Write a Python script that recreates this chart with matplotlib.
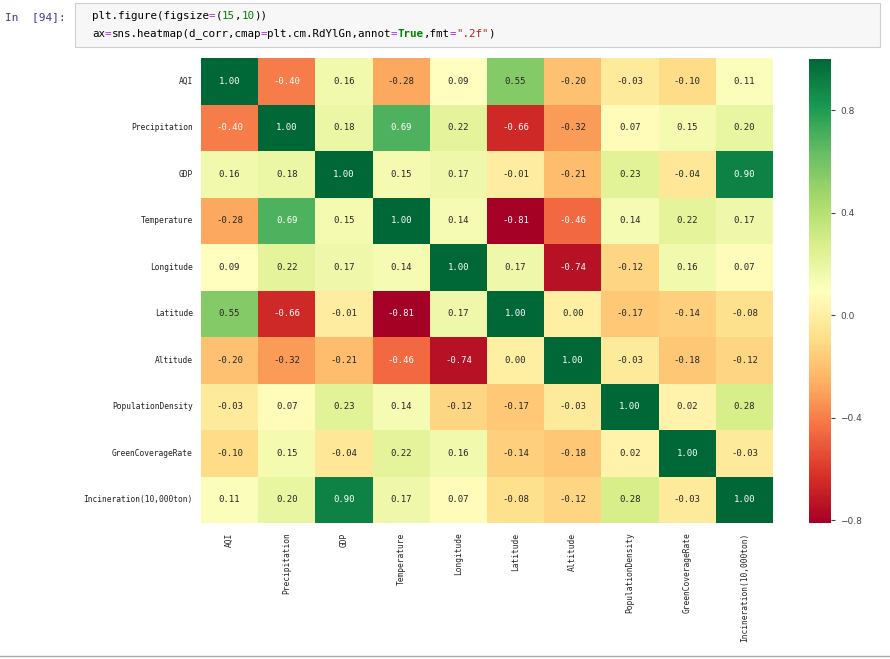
import numpy as np
import matplotlib
matplotlib.use("Agg")
import matplotlib.pyplot as plt
import seaborn as sns
from matplotlib.patches import Rectangle

labels = ["AQI", "Precipitation", "GDP", "Temperature", "Longitude", "Latitude",
          "Altitude", "PopulationDensity", "GreenCoverageRate", "Incineration(10,000ton)"]

r_aqi = [1.00, -0.40, 0.16, -0.28, 0.09, 0.55, -0.20, -0.03, -0.10, 0.11]
r_prec = [-0.40, 1.00, 0.18, 0.69, 0.22, -0.66, -0.32, 0.07, 0.15, 0.20]
r_gdp = [0.16, 0.18, 1.00, 0.15, 0.17, -0.01, -0.21, 0.23, -0.04, 0.90]
r_temp = [-0.28, 0.69, 0.15, 1.00, 0.14, -0.81, -0.46, 0.14, 0.22, 0.17]
r_lon = [0.09, 0.22, 0.17, 0.14, 1.00, 0.17, -0.74, -0.12, 0.16, 0.07]
r_lat = [0.55, -0.66, -0.01, -0.81, 0.17, 1.00, 0.00, -0.17, -0.14, -0.08]
r_alt = [-0.20, -0.32, -0.21, -0.46, -0.74, 0.00, 1.00, -0.03, -0.18, -0.12]
r_pop = [-0.03, 0.07, 0.23, 0.14, -0.12, -0.17, -0.03, 1.00, 0.02, 0.28]
r_green = [-0.10, 0.15, -0.04, 0.22, 0.16, -0.14, -0.18, 0.02, 1.00, -0.03]
r_inc = [0.11, 0.20, 0.90, 0.17, 0.07, -0.08, -0.12, 0.28, -0.03, 1.00]

d_corr = np.array([r_aqi, r_prec, r_gdp, r_temp, r_lon, r_lat, r_alt, r_pop, r_green, r_inc])

W, H = 890, 659
fig = plt.figure(figsize=(W / 100, H / 100), dpi=100)
fig.patch.set_facecolor("white")

def fx(px):
    return px / W

def fy(py):
    return 1 - py / H

mono = ["DejaVu Sans Mono"]
plt.rcParams["font.family"] = mono

# heatmap axes and colorbar axes
ax = fig.add_axes([fx(201), fy(523), fx(773) - fx(201), fy(58) - fy(523)])
cax = fig.add_axes([fx(809), fy(523), fx(831) - fx(809), fy(59) - fy(523)])

sns.heatmap(d_corr, cmap=plt.cm.RdYlGn, annot=True, fmt=".2f", ax=ax, cbar_ax=cax,
            xticklabels=labels, yticklabels=labels,
            annot_kws={"fontsize": 6.5, "family": mono})

ax.tick_params(axis="x", labelsize=5.7, rotation=90, length=0, pad=7, colors="#222222")
ax.tick_params(axis="y", labelsize=5.7, rotation=0, length=0, pad=6, colors="#222222")
for t in ax.get_xticklabels() + ax.get_yticklabels():
    t.set_family(mono)
cax.tick_params(labelsize=6.5, colors="#444444", length=3)
cax.set_yticks([-0.8, -0.4, 0.0, 0.4, 0.8])
for t in cax.get_yticklabels():
    t.set_family(["DejaVu Sans"])

# notebook chrome
fig.patches.append(Rectangle((fx(75), fy(47)), fx(880) - fx(75), fy(3) - fy(47),
                             transform=fig.transFigure, facecolor="#f7f7f7",
                             edgecolor="#cfcfcf", linewidth=0.8))
fig.text(fx(5), fy(17), "In  [94]:", color="#303f9f", fontsize=8,
         family=mono, va="center", ha="left")

cw = 6.5  # px per char
segs1 = [("plt.figure(figsize", "#000000"), ("=", "#aa22ff"), ("(", "#000000"),
         ("15", "#008000"), (",", "#000000"), ("10", "#008000"), ("))", "#000000")]
segs2 = [("ax", "#000000"), ("=", "#aa22ff"),
         ("sns.heatmap(d_corr,cmap", "#000000"), ("=", "#aa22ff"),
         ("plt.cm.RdYlGn,annot", "#000000"), ("=", "#aa22ff"),
         ("True", "#008000"), (",fmt", "#000000"), ("=", "#aa22ff"),
         ("\".2f\"", "#ba2121"), (")", "#000000")]
for segs, ypx in [(segs1, 16), (segs2, 34)]:
    x = 92
    for s, c in segs:
        fig.text(fx(x), fy(ypx), s, color=c, fontsize=7.8, family=mono,
                 va="center", ha="left",
                 fontweight="bold" if s == "True" else "normal")
        x += cw * len(s)

fig.add_artist(plt.Line2D([0, 1], [fy(656), fy(656)], transform=fig.transFigure,
                          color="#aaaaaa", linewidth=1))

fig.savefig("out.png", dpi=100)
